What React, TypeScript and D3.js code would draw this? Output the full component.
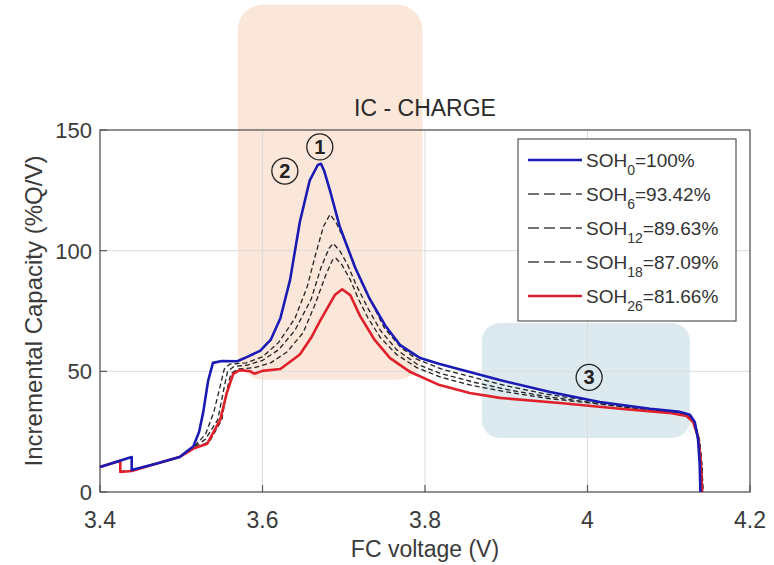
import React from "react";
import * as d3 from "d3";

type Pt = [number, number];

const xTicks = [3.4, 3.6, 3.8, 4.0, 4.2];
const xTickLabels = ["3.4", "3.6", "3.8", "4", "4.2"];
const yTicks = [0, 50, 100, 150];

const soh0: Pt[] = [
  [3.4, 10.4], [3.439, 14.5], [3.439, 9.1], [3.47, 11.8], [3.498, 14.5], [3.515, 19], [3.522, 25],
  [3.527, 33], [3.533, 46], [3.539, 53.5], [3.55, 54.3], [3.569, 54.2], [3.578, 55.5], [3.597, 58.5],
  [3.61, 63], [3.622, 72], [3.634, 88], [3.646, 112], [3.658, 129], [3.668, 135.5], [3.672, 136],
  [3.676, 133], [3.683, 125], [3.695, 110], [3.714, 93], [3.732, 80], [3.751, 69], [3.769, 61],
  [3.794, 55.5], [3.818, 53], [3.855, 49.7], [3.892, 46.4], [3.954, 41.4], [4.015, 37.3], [4.077, 34.5],
  [4.114, 33.2], [4.126, 32], [4.132, 29], [4.136, 22], [4.138, 12], [4.139, 0],
];

const soh6: Pt[] = [
  [3.4, 10.4], [3.425, 12.9], [3.425, 8.4], [3.439, 9.0], [3.47, 11.8], [3.498, 14.5], [3.515, 18.5],
  [3.53, 24], [3.54, 33], [3.548, 44], [3.553, 51], [3.56, 53], [3.58, 53.5], [3.6, 56], [3.62, 62],
  [3.64, 72], [3.655, 85], [3.665, 98], [3.675, 110], [3.683, 115], [3.69, 112], [3.7, 105], [3.71, 97],
  [3.72, 88], [3.735, 78], [3.75, 68], [3.77, 60], [3.79, 55], [3.82, 51], [3.86, 47.5], [3.9, 44],
  [3.95, 40.5], [4.0, 38], [4.05, 35.5], [4.1, 33.5], [4.122, 32.2], [4.132, 29], [4.138, 21], [4.141, 10], [4.142, 0],
];

const soh12: Pt[] = [
  [3.4, 10.4], [3.425, 12.9], [3.425, 8.4], [3.439, 9.0], [3.47, 11.8], [3.498, 14.5], [3.515, 18.2],
  [3.53, 22], [3.545, 30], [3.552, 42], [3.557, 50], [3.565, 52], [3.58, 52.5], [3.6, 54.5], [3.62, 59],
  [3.64, 67], [3.66, 80], [3.672, 93], [3.682, 101], [3.687, 103], [3.695, 100], [3.705, 94], [3.715, 86],
  [3.73, 76], [3.745, 67], [3.765, 59], [3.79, 53], [3.82, 49], [3.86, 45.5], [3.9, 42.5], [3.95, 39.5],
  [4.0, 37.3], [4.05, 35], [4.1, 33.3], [4.122, 32], [4.132, 29], [4.138, 21], [4.141, 10], [4.142, 0],
];

const soh18: Pt[] = [
  [3.4, 10.4], [3.425, 12.9], [3.425, 8.4], [3.439, 9.0], [3.47, 11.8], [3.498, 14.5], [3.515, 18],
  [3.535, 21], [3.55, 30], [3.556, 42], [3.561, 49], [3.57, 51], [3.59, 51.5], [3.61, 53.5], [3.63, 58],
  [3.65, 66], [3.665, 78], [3.678, 90], [3.686, 96], [3.69, 97], [3.698, 94], [3.708, 88], [3.718, 80],
  [3.73, 72], [3.745, 64], [3.765, 57], [3.79, 51.5], [3.82, 47.5], [3.86, 44], [3.9, 41.5], [3.95, 38.8],
  [4.0, 37], [4.05, 35], [4.1, 33.2], [4.122, 32], [4.132, 29], [4.138, 21], [4.141, 10], [4.142, 0],
];

const soh26: Pt[] = [
  [3.4, 10.4], [3.425, 12.9], [3.425, 8.3], [3.439, 8.7], [3.47, 11.8], [3.498, 14.5], [3.515, 18],
  [3.532, 20], [3.548, 30], [3.556, 41], [3.564, 49], [3.572, 50.5], [3.585, 50], [3.59, 49], [3.6, 50.2],
  [3.622, 51], [3.646, 57], [3.66, 64], [3.671, 71], [3.689, 81.6], [3.698, 84], [3.708, 81.6], [3.72, 73],
  [3.738, 63], [3.757, 55.5], [3.782, 49.7], [3.818, 44.3], [3.855, 41], [3.892, 39], [3.966, 36.9],
  [4.04, 34.5], [4.1, 32.8], [4.122, 31.5], [4.13, 29], [4.136, 23], [4.139, 14], [4.141, 0],
];

const seriesNames = ["0", "6", "12", "18", "26"];
const seriesPct = ["100%", "93.42%", "89.63%", "87.09%", "81.66%"];
const seriesData = [soh0, soh6, soh12, soh18, soh26];

// annotation regions in data units [x0, x1, y0, y1]
const orangeRegion = [3.5695, 3.797, 46.5, 202];
const blueRegion = [3.87, 4.126, 22.4, 70];
const markers: { label: string; x: number; y: number }[] = [
  { label: "1", x: 3.6705, y: 143 },
  { label: "2", x: 3.6275, y: 133 },
  { label: "3", x: 4.002, y: 47.5 },
];

const W = 774;
const H = 565;
const M = { left: 100, right: 750, top: 130, bottom: 492 };

export default function App() {
  const x = d3.scaleLinear().domain([3.4, 4.2]).range([M.left, M.right]);
  const y = d3.scaleLinear().domain([0, 150]).range([M.bottom, M.top]);
  const line = d3.line<Pt>().x((d) => x(d[0])).y((d) => y(d[1]));

  const styles = [
    { stroke: "#1a1ab4", width: 2.6, dash: "" },
    { stroke: "#222", width: 1.3, dash: "5,3" },
    { stroke: "#222", width: 1.3, dash: "5,3" },
    { stroke: "#222", width: 1.3, dash: "5,3" },
    { stroke: "#e0202a", width: 2.6, dash: "" },
  ];
  const legendStyles = [
    { stroke: "#1a1ab4", width: 2.6, dash: "" },
    { stroke: "#444", width: 1.5, dash: "11,5" },
    { stroke: "#444", width: 1.5, dash: "11,5" },
    { stroke: "#444", width: 1.5, dash: "11,5" },
    { stroke: "#d02030", width: 2.6, dash: "" },
  ];
  const font = "Liberation Sans, Arial, sans-serif";
  const txt = "#3a3a3a";

  const rect = (r: number[], fill: string, rad: number) => (
    <rect
      x={x(r[0])}
      y={y(r[3])}
      width={x(r[1]) - x(r[0])}
      height={y(r[2]) - y(r[3])}
      rx={rad}
      fill={fill}
    />
  );

  const legX = 518, legY = 139, legW = 218, legH = 182;
  const rowH = 34;

  return (
    <svg width={W} height={H} style={{ position: "absolute", left: 0, top: 0 }} fontFamily={font}>
      <rect x={0} y={0} width={W} height={H} fill="#fff" />
      {rect(orangeRegion, "#fbe7da", 26)}
      {rect(blueRegion, "#dce9ee", 18)}
      {/* grid */}
      {xTicks.slice(1, -1).map((t) => (
        <line key={"gx" + t} x1={x(t)} x2={x(t)} y1={M.top} y2={M.bottom} stroke="#dcdcdc" strokeWidth={1} />
      ))}
      {yTicks.slice(1, -1).map((t) => (
        <line key={"gy" + t} x1={M.left} x2={M.right} y1={y(t)} y2={y(t)} stroke="#dcdcdc" strokeWidth={1} />
      ))}
      {/* axes box */}
      <rect x={M.left} y={M.top} width={M.right - M.left} height={M.bottom - M.top} fill="none" stroke="#555" strokeWidth={1.3} />
      {xTicks.map((t, i) => (
        <g key={"xt" + t}>
          <line x1={x(t)} x2={x(t)} y1={M.bottom} y2={M.bottom - 7} stroke="#555" strokeWidth={1.2} />
          <text x={x(t)} y={528} textAnchor="middle" fontSize={23} fill={txt}>
            {xTickLabels[i]}
          </text>
        </g>
      ))}
      {yTicks.map((t) => (
        <g key={"yt" + t}>
          <line x1={M.left} x2={M.left + 7} y1={y(t)} y2={y(t)} stroke="#555" strokeWidth={1.2} />
          <text x={92} y={y(t) + 8} textAnchor="end" fontSize={22} fill={txt}>
            {t}
          </text>
        </g>
      ))}
      <text x={(M.left + M.right) / 2} y={557} textAnchor="middle" fontSize={23} fill={txt}>
        FC voltage (V)
      </text>
      <text transform={`translate(42,${(M.top + M.bottom) / 2}) rotate(-90)`} textAnchor="middle" fontSize={24} fill={txt}>
        Incremental Capacity (%Q/V)
      </text>
      <text x={(M.left + M.right) / 2} y={116} textAnchor="middle" fontSize={23} fill="#2a2a2a">
        IC - CHARGE
      </text>
      {/* series: dashed first, then red, then blue */}
      {[3, 2, 1, 4, 0].map((i) => (
        <path
          key={"s" + i}
          d={line(seriesData[i]) || ""}
          fill="none"
          stroke={styles[i].stroke}
          strokeWidth={styles[i].width}
          strokeDasharray={styles[i].dash}
          strokeLinejoin="round"
        />
      ))}
      {/* legend */}
      <rect x={legX} y={legY} width={legW} height={legH} fill="#fff" stroke="#555" strokeWidth={1.2} />
      {seriesNames.map((n, i) => {
        const cy = legY + 21 + i * rowH;
        return (
          <g key={"lg" + n}>
            <line x1={legX + 10} x2={legX + 64} y1={cy} y2={cy} stroke={legendStyles[i].stroke} strokeWidth={legendStyles[i].width} strokeDasharray={legendStyles[i].dash} />
            <text x={legX + 68} y={cy + 7} fontSize={19} fill="#333">
              SOH
              <tspan fontSize={14} dy={8}>{n}</tspan>
              <tspan dy={-8}>={seriesPct[i]}</tspan>
            </text>
          </g>
        );
      })}
      {/* circled markers */}
      {markers.map((m) => (
        <g key={"m" + m.label}>
          <circle cx={x(m.x)} cy={y(m.y)} r={13} fill="none" stroke="#222" strokeWidth={1.3} />
          <text x={x(m.x)} y={y(m.y) + 7} textAnchor="middle" fontSize={20} fontWeight="bold" fill="#222">
            {m.label}
          </text>
        </g>
      ))}
    </svg>
  );
}
